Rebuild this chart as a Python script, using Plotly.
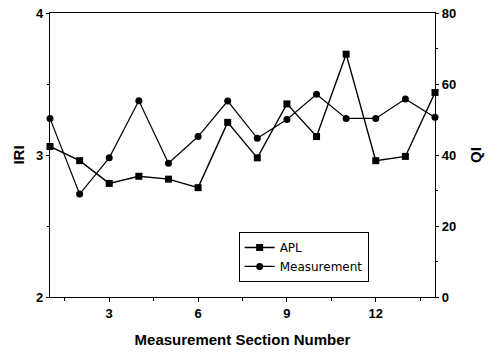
import plotly.graph_objects as go

sections = list(range(1, 15))
apl_iri = [3.06, 2.96, 2.80, 2.85, 2.83, 2.77, 3.23, 2.98, 3.36, 3.13, 3.71, 2.96, 2.99, 3.44]
measurement_qi = [50.3, 29.0, 39.2, 55.3, 37.7, 45.2, 55.2, 44.7, 50.0, 57.1, 50.3, 50.3, 55.8, 50.6]

x_ticks = [3, 6, 9, 12]
iri_ticks = [2, 3, 4]
qi_ticks = [0, 20, 40, 60, 80]

font_family = "Liberation Sans, Arial, sans-serif"

fig = go.Figure()
fig.add_trace(go.Scatter(
    x=sections, y=apl_iri, name="APL", mode="lines+markers",
    line=dict(color="black", width=1.4),
    marker=dict(symbol="square", size=7, color="black"),
    yaxis="y", cliponaxis=False,
))
fig.add_trace(go.Scatter(
    x=sections, y=measurement_qi, name="Measurement", mode="lines+markers",
    line=dict(color="black", width=1.2),
    marker=dict(symbol="circle", size=7, color="black"),
    yaxis="y2", cliponaxis=False,
))

axis_font = dict(family=font_family, size=13, color="black", weight="bold")
fig.update_layout(
    width=491, height=353,
    margin=dict(l=50, r=56, t=13, b=56),
    paper_bgcolor="white", plot_bgcolor="white",
    font=dict(family=font_family, color="black"),
    showlegend=True,
    legend=dict(
        x=0.49, y=0.229, xanchor="left", yanchor="top",
        bgcolor="white", bordercolor="black", borderwidth=1,
        font=dict(family="DejaVu Sans, sans-serif", size=12, color="black"),
        tracegroupgap=0, itemwidth=30,
    ),
    xaxis=dict(
        range=[1, 14], tickvals=x_ticks, ticks="outside", ticklen=4,
        tickcolor="black", showline=True, linecolor="black", linewidth=1.2,
        mirror=True, showgrid=False, zeroline=False, tickfont=axis_font,
        automargin=False, ticklabeloverflow="allow",
        minor=dict(dtick=1.5, tick0=0, ticks="outside", ticklen=3, tickcolor="black"),
        title=dict(text="Measurement Section Number", standoff=14,
                   font=dict(family=font_family, size=15, color="black", weight="bold")),
    ),
    yaxis=dict(
        range=[2, 4], tickvals=iri_ticks, ticks="outside", ticklen=3,
        tickcolor="black", showline=True, linecolor="black", linewidth=1.2,
        showgrid=False, zeroline=False, tickfont=axis_font, automargin=False,
        ticklabeloverflow="allow",
        minor=dict(dtick=0.5, ticks="outside", ticklen=2, tickcolor="black"),
        title=dict(text="IRI", standoff=7,
                   font=dict(family=font_family, size=15, color="black", weight="bold")),
    ),
    yaxis2=dict(
        range=[0, 80], tickvals=qi_ticks, ticks="outside", ticklen=3,
        tickcolor="black", showline=True, linecolor="black", linewidth=1.2,
        overlaying="y", side="right", showgrid=False, zeroline=False,
        tickfont=axis_font, automargin=False, ticklabeloverflow="allow",
        minor=dict(dtick=10, ticks="outside", ticklen=2, tickcolor="black"),
        title=dict(text="QI", standoff=15,
                   font=dict(family=font_family, size=15, color="black", weight="bold")),
    ),
)

fig.write_html("out.html", config={"displayModeBar": False},
               post_script="document.body.style.margin='0';")
